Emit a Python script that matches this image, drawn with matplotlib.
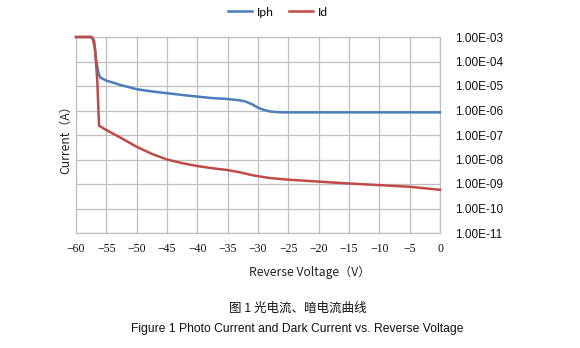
import matplotlib
matplotlib.use("Agg")
import matplotlib.pyplot as plt
from matplotlib.ticker import FixedLocator, FuncFormatter, NullLocator
import numpy as np

# ---- data ----
v_iph = [-60, -57.4, -57.0, -56.7, -56.3, -56.0, -55, -52.5, -50, -47.5, -45, -42.5, -40,
         -37.5, -35, -33, -32, -31, -30, -29, -28, -27, -26, -20, -15, -10, -5, 0]
i_iph = [1e-3, 1e-3, 7e-4, 1.2e-4, 3.4e-5, 2.2e-5, 1.66e-5, 1.07e-5, 7.4e-6, 6.0e-6, 5.1e-6,
         4.3e-6, 3.7e-6, 3.2e-6, 2.95e-6, 2.6e-6, 2.3e-6, 1.8e-6, 1.3e-6, 1.05e-6, 9.1e-7,
         8.6e-7, 8.4e-7, 8.4e-7, 8.4e-7, 8.4e-7, 8.4e-7, 8.4e-7]

v_id = [-60, -57.5, -57.2, -56.86, -56.5, -56.2, -55, -52.5, -50, -47.5, -45, -42.5, -40,
        -37.5, -35, -33, -31, -29, -28, -25, -20, -15, -10, -5, 0]
i_id = [1e-3, 1e-3, 8e-4, 3e-4, 1.8e-5, 2.4e-7, 1.6e-7, 7.4e-8, 3.3e-8, 1.7e-8, 1.0e-8,
        7.1e-9, 5.4e-9, 4.4e-9, 3.7e-9, 3.0e-9, 2.3e-9, 1.9e-9, 1.75e-9, 1.5e-9, 1.25e-9,
        1.05e-9, 9.0e-10, 7.7e-10, 5.8e-10]

x_ticks = list(range(-60, 1, 5))
y_ticks = [1e-11, 1e-10, 1e-9, 1e-8, 1e-7, 1e-6, 1e-5, 1e-4, 1e-3]

series_names = ["Iph", "Id"]
colors = ["#4a7ebb", "#be4b48"]

fig = plt.figure(figsize=(5.8, 3.48), dpi=100)
ax = fig.add_axes([76/580, 1-233/348, (440-76)/580, (233-37)/348])

ax.plot(v_iph, i_iph, color=colors[0], lw=1.8, label=series_names[0], clip_on=False, zorder=3)
ax.plot(v_id, i_id, color=colors[1], lw=1.8, label=series_names[1], clip_on=False, zorder=4)

ax.set_yscale("log")
ax.set_xlim(-60, 0)
ax.set_ylim(1e-11, 1e-3)
ax.xaxis.set_major_locator(FixedLocator(x_ticks))
ax.yaxis.set_major_locator(FixedLocator(y_ticks))
ax.yaxis.set_minor_locator(NullLocator())

def yfmt(v, pos):
    e = int(round(np.log10(v)))
    return "1.00E-%02d" % (-e)

ax.yaxis.set_major_formatter(FuncFormatter(yfmt))
ax.xaxis.set_major_formatter(FuncFormatter(lambda v, p: ("\u2212%d" % -v) if v < 0 else "%d" % v))

ax.yaxis.tick_right()
ax.tick_params(axis="both", length=0)
ax.tick_params(axis="y", pad=11, labelsize=8.5, labelcolor="#111111")
ax.tick_params(axis="x", pad=7, labelsize=8.5, labelcolor="#111111")
for lab in ax.get_yticklabels():
    lab.set_family("Liberation Sans")
for lab in ax.get_xticklabels():
    lab.set_family("Liberation Serif")

ax.grid(True, color="#bfbfbf", lw=0.9)
ax.set_axisbelow(True)
for s in ax.spines.values():
    s.set_color("#bfbfbf")
    s.set_linewidth(0.9)

fig.text(66/580, 1-137/348, "Current（A）", rotation=90, ha="center", va="center",
         fontsize=8.7, family=["Noto Sans CJK SC", "DejaVu Sans"], color="#222222")
fig.text(310/580, 1-272/348, "Reverse Voltage（V）", ha="center", va="center",
         fontsize=8.7, family=["Noto Sans CJK SC", "DejaVu Sans"], color="#222222")

leg = fig.legend(loc="center", bbox_to_anchor=(278/580, 1-12/348), ncol=2, frameon=False,
                 handlelength=2.0, columnspacing=1.2, handletextpad=0.4,
                 prop={"family": "Lato", "size": 8.7})

fig.text(298/580, 1-308/348, "图 1 光电流、暗电流曲线", ha="center", va="center",
         fontsize=9, family=["Noto Sans CJK SC", "DejaVu Sans"], color="#111111")
fig.text(297/580, 1-329/348, "Figure 1 Photo Current and Dark Current vs. Reverse Voltage",
         ha="center", va="center", fontsize=8.7, family="Liberation Sans", color="#111111")

fig.savefig("out.png", dpi=100)
